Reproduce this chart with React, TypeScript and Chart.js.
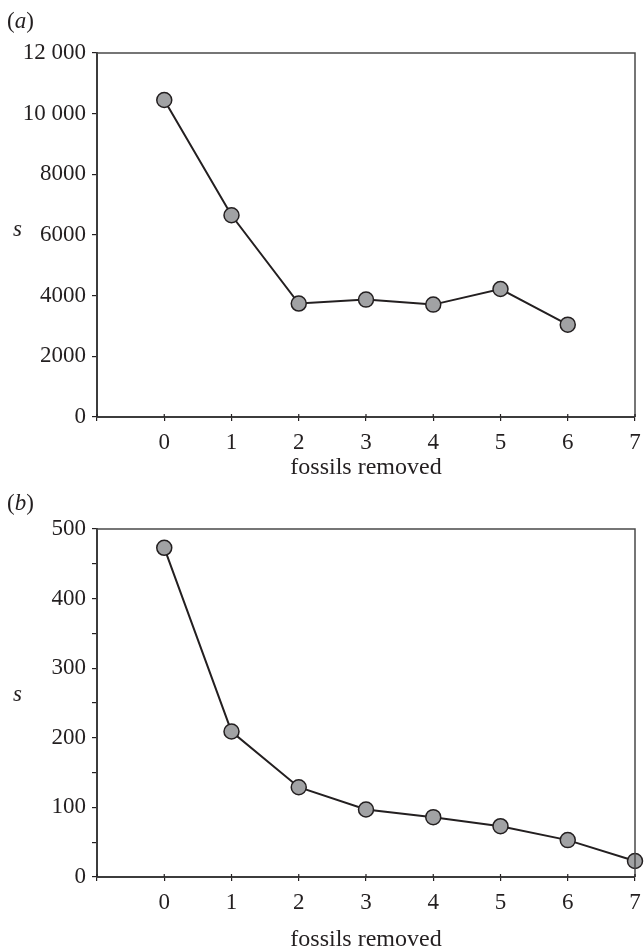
import React, { useEffect, useRef } from "react";
import { Chart, registerables } from "chart.js";

Chart.register(...registerables);

// Panel (a)
const xA = [0, 1, 2, 3, 4, 5, 6];
const sA = [10450, 6650, 3740, 3870, 3705, 4220, 3045];
// Panel (b)
const xB = [0, 1, 2, 3, 4, 5, 6, 7];
const sB = [473, 209, 129, 97, 86, 73, 53, 23];

const xTitle = "fossils removed";
const yTitle = "s";

const FONT = '"Liberation Serif", "Times New Roman", serif';
const INK = "#231f20";
const FS = 23;

const frame = {
  id: "frame",
  afterDraw(chart: any) {
    const { ctx, chartArea: a } = chart;
    ctx.save();
    ctx.strokeStyle = "#4a4a4a";
    ctx.lineWidth = 1.5;
    ctx.beginPath();
    ctx.moveTo(a.left, a.top);
    ctx.lineTo(a.right, a.top);
    ctx.lineTo(a.right, a.bottom);
    ctx.stroke();
    // inner halves of x tick marks
    const xs = chart.scales.x;
    ctx.strokeStyle = INK;
    ctx.lineWidth = 1.2;
    xs.ticks.forEach((t: any) => {
      const px = xs.getPixelForValue(t.value);
      ctx.beginPath();
      ctx.moveTo(px, a.bottom);
      ctx.lineTo(px, a.bottom - 3);
      ctx.stroke();
    });
    ctx.restore();
  },
};

function makeConfig(
  xs: number[],
  ys: number[],
  yMax: number,
  yStep: number,
  yLabel: (v: number) => string,
  padTop: number,
  xHeight: number,
  titlePadBottom: number
): any {
  return {
    type: "line",
    data: {
      datasets: [
        {
          data: xs.map((x, i) => ({ x, y: ys[i] })),
          borderColor: INK,
          borderWidth: 2,
          pointRadius: 7.5,
          pointBackgroundColor: "#a1a2a4",
          pointBorderColor: INK,
          pointBorderWidth: 1.5,
          tension: 0,
          clip: false,
        },
      ],
    },
    options: {
      animation: false,
      responsive: true,
      maintainAspectRatio: false,
      layout: { padding: { top: padTop, right: 2, left: 0, bottom: 0 } },
      plugins: { legend: { display: false }, tooltip: { enabled: false }, title: { display: false } },
      scales: {
        x: {
          type: "linear",
          min: -1,
          max: 7,
          afterFit(s: any) {
            s.height = xHeight;
            s.paddingLeft = 0;
            s.paddingRight = 0;
          },
          ticks: {
            stepSize: 1,
            color: INK,
            font: { family: FONT, size: FS },
            padding: 8,
            maxRotation: 0,
            callback: (v: number) => (v < 0 ? "" : String(v)),
          },
          grid: { drawOnChartArea: false, drawTicks: true, tickLength: 4, color: INK, lineWidth: 1.2 },
          border: { display: true, color: "#3c3c3c", width: 2 },
          title: {
            display: true,
            text: xTitle,
            color: INK,
            font: { family: FONT, size: 24 },
            padding: { top: 0, bottom: titlePadBottom },
          },
        },
        y: {
          type: "linear",
          min: 0,
          max: yMax,
          afterFit(s: any) {
            s.width = 97;
          },
          ticks: {
            stepSize: yStep,
            color: INK,
            font: { family: FONT, size: FS },
            padding: 6,
            callback: (v: number) => yLabel(v),
          },
          grid: { drawOnChartArea: false, drawTicks: true, tickLength: 5, color: INK, lineWidth: 1.2 },
          border: { display: true, color: "#3c3c3c", width: 2 },
        },
      },
    },
    plugins: [frame],
  };
}

const fmtA = (v: number) => (v >= 10000 ? String(v).replace(/(\d+)(\d{3})$/, "$1 $2") : String(v));
const fmtB = (v: number) => (v % 100 === 0 ? String(v) : "");

function Panel(props: { top: number; height: number; cfg: any }) {
  const ref = useRef<HTMLCanvasElement | null>(null);
  useEffect(() => {
    const c = new Chart(ref.current as HTMLCanvasElement, props.cfg);
    return () => c.destroy();
  }, []);
  return (
    <div style={{ position: "absolute", left: 0, top: props.top, width: 644, height: props.height }}>
      <canvas ref={ref} />
    </div>
  );
}

const textStyle: React.CSSProperties = {
  position: "absolute",
  fontFamily: FONT,
  fontSize: FS,
  lineHeight: "23px",
  color: INK,
  whiteSpace: "nowrap",
};

export default function App() {
  const cfgA = makeConfig(xA, sA, 12000, 2000, fmtA, 53, 67, 1.6);
  const cfgB = makeConfig(xB, sB, 500, 50, fmtB, 45, 75, -2.4);
  return (
    <div style={{ position: "absolute", left: 0, top: 0, width: 644, height: 952, background: "#fff" }}>
      <Panel top={0} height={484} cfg={cfgA} />
      <Panel top={484} height={468} cfg={cfgB} />
      <div style={{ ...textStyle, left: 7, top: 9 }}>
        (<i>a</i>)
      </div>
      <div style={{ ...textStyle, left: 7, top: 491 }}>
        (<i>b</i>)
      </div>
      <div style={{ ...textStyle, left: 13, top: 217 }}>
        <i>{yTitle}</i>
      </div>
      <div style={{ ...textStyle, left: 13, top: 682 }}>
        <i>{yTitle}</i>
      </div>
    </div>
  );
}
